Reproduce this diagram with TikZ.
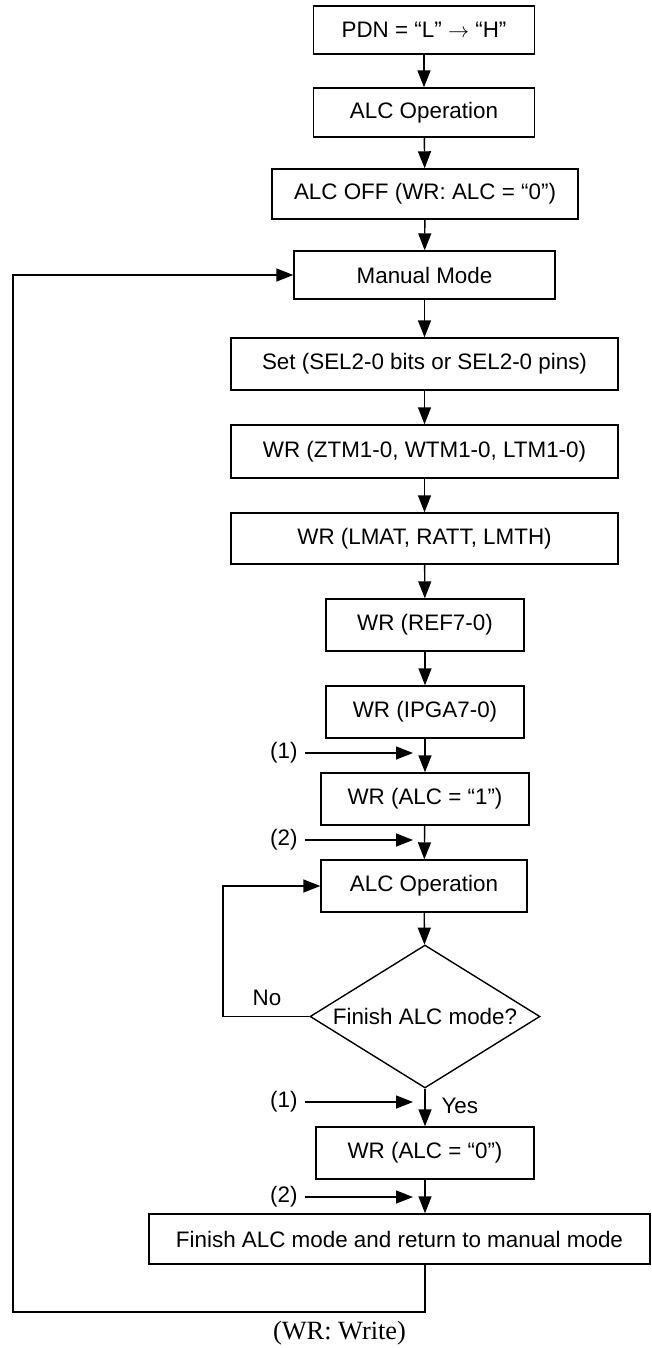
\documentclass[tikz,border=0pt]{standalone}
\usepackage{fontspec}
\setmainfont{Liberation Sans}
\newfontfamily\capfont{Liberation Serif}
\usetikzlibrary{arrows.meta,shapes.geometric}

\tikzset{
  box/.style={draw, line width=0.8pt, inner sep=0pt, minimum height=1.04cm,
              font=\fontsize{12.75}{15}\selectfont},
  decision/.style={draw, diamond, aspect=1.6, inner sep=0pt, line width=0.8pt,
              minimum width=4.6cm, minimum height=2.86cm,
              font=\fontsize{12.75}{15}\selectfont},
  flow/.style={line width=0.8pt, -{Triangle[length=0.34cm,width=0.26cm]}},
  lbl/.style={inner sep=0pt, font=\fontsize{12.75}{15}\selectfont}
}

\begin{document}
\begin{tikzpicture}[x=0.02cm,y=-0.02cm]
                              \useasboundingbox (0,0) rectangle (652,1348);

                              % Boxes
                              \node[box, minimum width=4.42cm, minimum height=0.96cm] (pdn) at (424,30) {PDN = “L” $\rightarrow$ “H”};
                              \node[box, minimum width=4.42cm, minimum height=0.98cm] (op1) at (424,112.5) {ALC Operation};
                              \node[box, minimum width=6.12cm, minimum height=1.0cm] (off) at (425,194) {ALC OFF (WR: ALC = “0”)};
                              \node[box, minimum width=5.22cm, minimum height=0.96cm] (manual) at (424.5,275) {Manual Mode};
                              \node[box, minimum width=7.74cm] (sel) at (424.5,364) {Set (SEL2-0 bits or SEL2-0 pins)};
                              \node[box, minimum width=7.74cm, minimum height=1.06cm] (ztm) at (424.5,451.5) {WR (ZTM1-0, WTM1-0, LTM1-0)};
                              \node[box, minimum width=7.74cm, minimum height=1.02cm] (lmat) at (424.5,538.5) {WR (LMAT, RATT, LMTH)};
                              \node[box, minimum width=3.96cm] (ref) at (425,625) {WR (REF7-0)};
                              \node[box, minimum width=3.96cm] (ipga) at (425,712) {WR (IPGA7-0)};
                              \node[box, minimum width=4.16cm] (alc1) at (425,799) {WR (ALC = “1”)};
                              \node[box, minimum width=4.12cm] (op2) at (424,886) {ALC Operation};
                              \node[decision] (dia) at (425,1016.5) {Finish ALC mode?};
                              \node[box, minimum width=4.36cm] (alc0) at (425,1153) {WR (ALC = “0”)};
                              \node[box, minimum width=10.02cm, minimum height=1.0cm] (fin) at (399.5,1239) {Finish ALC mode and return to manual mode};

                              % Main flow
                              \draw[flow] (pdn) -- (op1);
                              \draw[flow] (op1) -- (off);
                              \draw[flow] (off) -- (manual);
                              \draw[flow] (manual) -- (sel);
                              \draw[flow] (sel) -- (ztm);
                              \draw[flow] (ztm) -- (lmat);
                              \draw[flow] (lmat) -- (ref);
                              \draw[flow] (ref) -- (ipga);
                              \draw[flow] (ipga) -- (alc1);
                              \draw[flow] (alc1) -- (op2);
                              \draw[flow] (op2) -- (dia);
                              \draw[flow] (dia) -- (alc0) node[lbl, pos=0.45, right=9pt] (yes) {Yes};
                              \draw[flow] (alc0.south) -- (alc0.south |- fin.north);

                              % No loop
                              \coordinate (nl) at (223,1016.5);
                              \draw[flow] (dia.west) -- (nl) |- (op2.west);
                              \node[lbl] (no) at (267,998) {No};

                              % Return loop
                              \coordinate (lb) at (13,1312);
                              \draw[flow] (alc0.south |- fin.south) -- (alc0.south |- lb) -- (lb) |- (manual.west);

                              % Entry points (1), (2)
                              \foreach \nm/\txt/\yy in {ina/(1)/753, inb/(2)/840, inc/(1)/1102, ind/(2)/1197}{
                                    \node[lbl, anchor=east, inner xsep=4pt] (\nm) at (305,\yy) {\txt};
                                    \coordinate (\nm t) at (413,\yy);
                                    \draw[flow] (\nm) -- (\nm t);
                              }

                              % Note
                              \node[font=\capfont\fontsize{15}{18}\selectfont] (note) at (339.5,1333) {(WR: Write)};
                        \end{tikzpicture}
\end{document}
